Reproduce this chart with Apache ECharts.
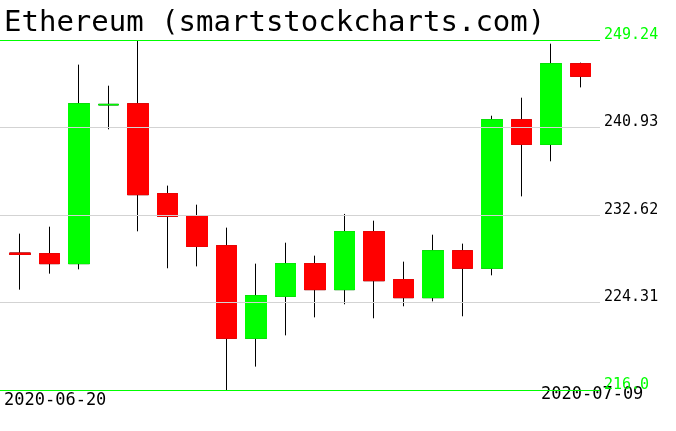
<!DOCTYPE html>
<html>
<head>
<meta charset="utf-8">
<script src="https://cdn.jsdelivr.net/npm/echarts@6/dist/echarts.min.js"></script>
<style>
html,body{margin:0;padding:0;background:#fff;}
#chart{width:676px;height:431px;}
</style>
</head>
<body>
<div id="chart"></div>
<script>
var titleText = 'Ethereum (smartstockcharts.com)';
var dates = ['2020-06-20','2020-06-21','2020-06-22','2020-06-23','2020-06-24','2020-06-25','2020-06-26','2020-06-27','2020-06-28','2020-06-29','2020-06-30','2020-07-01','2020-07-02','2020-07-03','2020-07-04','2020-07-05','2020-07-06','2020-07-07','2020-07-08','2020-07-09'];
var openV  = [229.01, 228.95, 228.00, 243.07, 243.19, 234.65, 232.56, 229.71, 220.91, 224.90, 228.00, 225.53, 231.04, 226.48, 224.77, 229.23, 227.56, 241.67, 239.33, 246.99];
var closeV = [228.88, 228.00, 243.19, 243.13, 234.55, 232.49, 229.64, 220.91, 224.96, 228.00, 225.53, 231.04, 226.38, 224.77, 229.23, 227.56, 241.67, 239.33, 246.99, 245.79];
var lowV   = [225.53, 227.05, 227.46, 240.76, 231.07, 227.56, 227.74, 216.00, 218.22, 221.19, 222.90, 224.14, 222.81, 223.95, 224.42, 223.00, 226.89, 234.39, 237.72, 244.74];
var highV  = [230.85, 231.51, 246.90, 244.90, 249.24, 235.41, 233.60, 231.42, 228.00, 229.99, 228.76, 232.72, 232.08, 228.19, 230.75, 229.90, 242.05, 243.76, 248.89, 247.09];
var yTickValues = [216.0, 224.31, 232.62, 240.93, 249.24];
var yTickLabels = ['216.0', '224.31', '232.62', '240.93', '249.24'];
var xShownLabels = ['2020-06-20', '2020-07-09'];

var GREEN = '#00ff00', RED = '#ff0000', GRAY = '#d3d3d3';
var yMin = yTickValues[0], yMax = yTickValues[yTickValues.length - 1];
var yInterval = yTickValues[1] - yTickValues[0];

function nearestIdx(v) {
  var best = 0, bd = Infinity;
  for (var i = 0; i < yTickValues.length; i++) {
    var d = Math.abs(yTickValues[i] - v);
    if (d < bd) { bd = d; best = i; }
  }
  return best;
}

var wickData = [], bodyData = [];
for (var i = 0; i < dates.length; i++) {
  wickData.push([openV[i], closeV[i], lowV[i], highV[i]]);
  bodyData.push([openV[i], closeV[i], Math.min(openV[i], closeV[i]), Math.max(openV[i], closeV[i])]);
}

var chart = echarts.init(document.getElementById('chart'), null, {renderer: 'canvas'});
chart.setOption({
  animation: false,
  backgroundColor: '#ffffff',
  title: {
    text: titleText,
    left: 4, top: 9, padding: 0,
    textStyle: {fontFamily: 'DejaVu Sans Mono', fontSize: 29, fontWeight: 'normal', color: '#000'}
  },
  grid: [
    {left: 0, right: 76, top: 40, bottom: 41, containLabel: false, outerBoundsMode: 'none'},
    {left: 5.5, right: 81, top: 40, bottom: 41, containLabel: false, outerBoundsMode: 'none'}
  ],
  xAxis: [
    {type: 'category', gridIndex: 0, data: dates, show: false, boundaryGap: true},
    {type: 'category', gridIndex: 1, data: dates, show: false, boundaryGap: true}
  ],
  yAxis: [
    {
      type: 'value', gridIndex: 0, position: 'right', min: yMin, max: yMax, interval: yInterval, z: 3,
      axisLine: {show: false}, axisTick: {show: false},
      splitLine: {show: true, showMinLine: true, showMaxLine: true,
        lineStyle: {color: [GREEN, GRAY, GRAY, GRAY, GREEN], width: 1}},
      axisLabel: {
        show: true, showMinLabel: true, showMaxLabel: true, inside: false, margin: 4,
        fontFamily: 'DejaVu Sans Mono', fontSize: 15, verticalAlign: 'bottom', lineHeight: 10,
        formatter: function (v) { return yTickLabels[nearestIdx(v)]; },
        color: function (v) { var k = nearestIdx(v); return (k === 0 || k === yTickValues.length - 1) ? GREEN : '#000'; }
      }
    },
    {type: 'value', gridIndex: 1, min: yMin, max: yMax, show: false, splitLine: {show: false}}
  ],
  graphic: [
    {type: 'text', x: 4, y: 392, style: {text: xShownLabels[0], fontFamily: 'DejaVu Sans Mono', fontSize: 17, fill: '#000', verticalAlign: 'top'}},
    {type: 'text', x: 541, y: 386, style: {text: xShownLabels[1], fontFamily: 'DejaVu Sans Mono', fontSize: 17, fill: '#000', verticalAlign: 'top'}}
  ],
  series: [
    {
      type: 'candlestick', xAxisIndex: 1, yAxisIndex: 1, barWidth: 21, data: wickData, z: 1,
      itemStyle: {color: 'rgba(0,0,0,0)', color0: 'rgba(0,0,0,0)', borderColor: '#000', borderColor0: '#000', borderColorDoji: '#000', borderWidth: 1}
    },
    {
      type: 'candlestick', xAxisIndex: 1, yAxisIndex: 1, barWidth: 21, data: bodyData, z: 2,
      itemStyle: {color: GREEN, color0: RED, borderColor: GREEN, borderColor0: RED, borderWidth: 1}
    }
  ]
});
</script>
</body>
</html>
